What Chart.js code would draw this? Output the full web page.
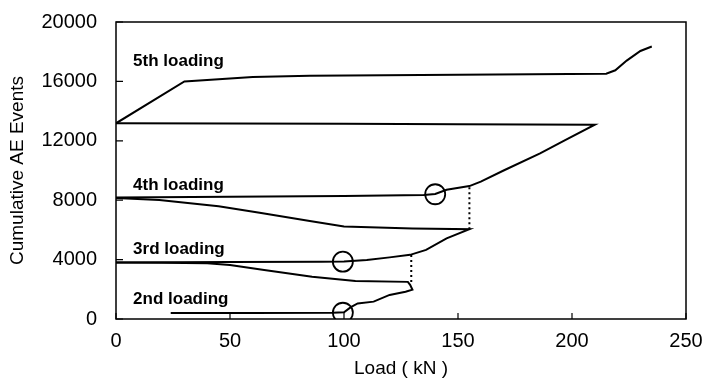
<!DOCTYPE html>
<html lang="en">
<head>
    <meta charset="UTF-8">
    <title>Cumulative AE Events vs Load</title>
    <script src="https://cdn.jsdelivr.net/npm/chart.js"></script>
    <style>
        html, body { margin: 0; padding: 0; background: #fff; }
        #wrap { width: 706px; height: 378px; }
    </style>
</head>
<body>
    <div id="wrap"><canvas id="ae-chart"></canvas></div>

    <script>
        // values (load in kN, cumulative AE events)
        const load2 = [24, 60, 95, 100, 103, 106, 113, 120, 127, 130, 129, 128, 105, 86, 65, 50, 40, 20, 0];
        const ae2 = [400, 410, 420, 450, 800, 1050, 1170, 1620, 1840, 1980, 2300, 2500, 2560, 2850, 3300, 3640, 3750, 3790, 3800];

        const load3 = [0, 50, 90, 100, 110, 120, 129, 136, 145, 155, 130, 100, 85, 63, 45, 19, 0];
        const ae3 = [3800, 3830, 3850, 3870, 3980, 4150, 4320, 4650, 5430, 6050, 6100, 6230, 6600, 7150, 7600, 8010, 8150];

        const load4 = [0, 50, 100, 135, 140, 145, 155, 160, 170, 186, 197, 210, 150, 100, 0];
        const ae4 = [8180, 8230, 8280, 8350, 8420, 8700, 8950, 9250, 10000, 11150, 12050, 13080, 13120, 13140, 13180];

        const load5 = [0, 30, 60, 85, 150, 215, 219, 224, 230, 235];
        const ae5 = [13180, 16000, 16300, 16380, 16450, 16520, 16750, 17400, 18050, 18350];

        // dotted markers where the previous maximum load is exceeded
        const dot3Load = [129.5, 129.5];
        const dot3AE = [2500, 4330];
        const dot4Load = [155, 155];
        const dot4AE = [6040, 8950];

        // circled points
        const circleLoad = [99.5, 99.5, 140];
        const circleAE = [420, 3860, 8400];

        const cycleNames = ['2nd loading', '3rd loading', '4th loading', '5th loading'];
        const nameLoad = [7.5, 7.5, 7.5, 7.5];
        const nameAE = [1010, 4377, 8687, 17037];

        const xTicks = [0, 50, 100, 150, 200, 250];
        const yTicks = [0, 4000, 8000, 12000, 16000, 20000];

        const pts = (xs, ys) => xs.map((x, i) => ({ x, y: ys[i] }));

        const curve = (label, xs, ys) => ({
            label, data: pts(xs, ys), showLine: true, borderColor: '#000',
            borderWidth: 2, pointRadius: 0, tension: 0, fill: false
        });

        const dotted = (label, xs, ys) => ({
            label, data: pts(xs, ys), showLine: true, borderColor: '#000',
            borderWidth: 2, borderDash: [2, 3], pointRadius: 0, fill: false
        });

        const framePlugin = {
            id: 'frame',
            afterDraw(chart) {
                const { ctx, chartArea: a, scales } = chart;
                ctx.save();
                ctx.strokeStyle = '#000';
                ctx.lineWidth = 1.5;
                ctx.strokeRect(a.left, a.top, a.right - a.left, a.bottom - a.top);

                // inward tick marks
                ctx.lineWidth = 1.2;
                ctx.beginPath();
                xTicks.forEach(v => {
                    const px = scales.x.getPixelForValue(v);
                    ctx.moveTo(px, a.bottom);
                    ctx.lineTo(px, a.bottom - 6);
                });
                yTicks.forEach(v => {
                    const py = scales.y.getPixelForValue(v);
                    ctx.moveTo(a.left, py);
                    ctx.lineTo(a.left + 7, py);
                });
                ctx.stroke();

                // cycle labels
                ctx.fillStyle = '#000';
                ctx.font = 'bold 17px "Liberation Sans", Arial, sans-serif';
                ctx.textAlign = 'left';
                ctx.textBaseline = 'alphabetic';
                cycleNames.forEach((name, i) => {
                    ctx.fillText(name, scales.x.getPixelForValue(nameLoad[i]), scales.y.getPixelForValue(nameAE[i]));
                });
                ctx.restore();
            }
        };

        const font = { family: '"Liberation Sans", Arial, sans-serif', size: 20 };

        new Chart(document.getElementById('ae-chart'), {
            type: 'scatter',
            data: {
                datasets: [
                    curve('2nd loading', load2, ae2),
                    curve('3rd loading', load3, ae3),
                    curve('4th loading', load4, ae4),
                    curve('5th loading', load5, ae5),
                    dotted('3rd marker', dot3Load, dot3AE),
                    dotted('4th marker', dot4Load, dot4AE),
                    {
                        label: 'circles', data: pts(circleLoad, circleAE), showLine: false,
                        pointRadius: 10, pointBorderWidth: 1.8, pointBorderColor: '#000',
                        pointBackgroundColor: 'rgba(0,0,0,0)'
                    }
                ]
            },
            options: {
                responsive: true,
                maintainAspectRatio: false,
                animation: false,
                layout: { padding: { top: 22, right: 20, left: 0, bottom: 0 } },
                plugins: { legend: { display: false }, tooltip: { enabled: false } },
                scales: {
                    x: {
                        type: 'linear', min: 0, max: 250,
                        afterBuildTicks: s => { s.ticks = xTicks.map(v => ({ value: v })); },
                        afterFit: s => { s.height = 59; s.paddingLeft = 0; s.paddingRight = 0; },
                        grid: { drawOnChartArea: false, drawTicks: false },
                        border: { display: false },
                        ticks: { color: '#000', font, padding: 10, maxRotation: 0, callback: v => String(v) },
                        title: {
                            display: true, text: 'Load ( kN )', color: '#000',
                            font: { family: font.family, size: 19, lineHeight: 1 },
                            padding: { top: 0, bottom: 0 }
                        }
                    },
                    y: {
                        type: 'linear', min: 0, max: 20000,
                        afterBuildTicks: s => { s.ticks = yTicks.map(v => ({ value: v })); },
                        afterFit: s => { s.width = 116; s.paddingTop = 0; s.paddingBottom = 0; },
                        grid: { drawOnChartArea: false, drawTicks: false },
                        border: { display: false },
                        ticks: { color: '#000', font, padding: 19, callback: v => String(v) },
                        title: {
                            display: true, text: 'Cumulative AE Events', color: '#000',
                            font: { family: font.family, size: 19, lineHeight: 1 },
                            padding: { top: 8, bottom: 0 }
                        }
                    }
                }
            },
            plugins: [framePlugin]
        });
    </script>
</body>
</html>
